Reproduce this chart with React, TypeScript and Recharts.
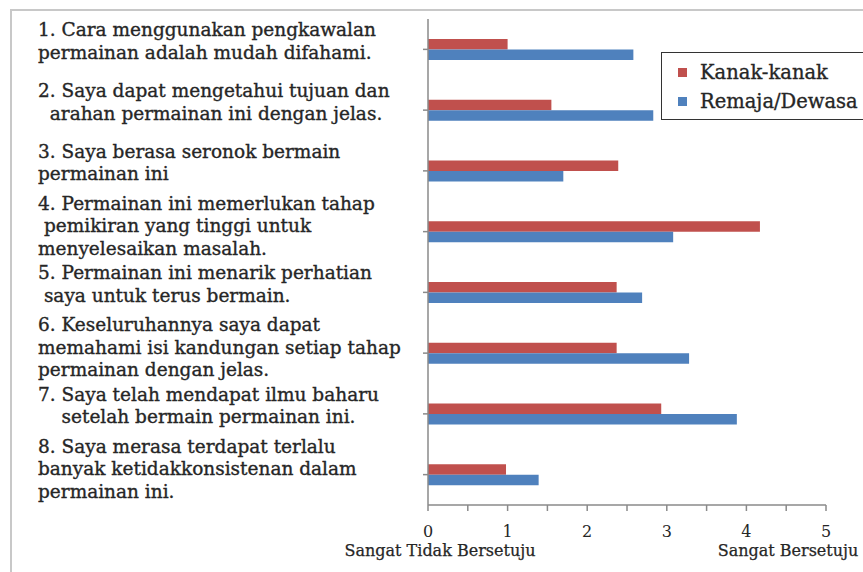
import { BarChart, Bar, XAxis, YAxis } from 'recharts';

const ITEMS = ['1', '2', '3', '4', '5', '6', '7', '8'];

const ITEM_LINES: string[][] = [
  ['1. Cara menggunakan pengkawalan', 'permainan adalah mudah difahami.'],
  ['2. Saya dapat mengetahui tujuan dan', '  arahan permainan ini dengan jelas.'],
  ['3. Saya berasa seronok bermain', 'permainan ini'],
  ['4. Permainan ini memerlukan tahap', ' pemikiran yang tinggi untuk', 'menyelesaikan masalah.'],
  ['5. Permainan ini menarik perhatian', ' saya untuk terus bermain.'],
  ['6. Keseluruhannya saya dapat', 'memahami isi kandungan setiap tahap', 'permainan dengan jelas.'],
  ['7. Saya telah mendapat ilmu baharu', '    setelah bermain permainan ini.'],
  ['8. Saya merasa terdapat terlalu', 'banyak ketidakkonsistenan dalam', 'permainan ini.'],
];

const KANAK = [1.0, 1.55, 2.39, 4.17, 2.37, 2.37, 2.93, 0.98];
const REMAJA = [2.58, 2.83, 1.7, 3.08, 2.69, 3.28, 3.88, 1.39];

const SERIES_NAMES = ['Kanak-kanak', 'Remaja/Dewasa'];
const SERIES_COLORS = ['#C0504D', '#4F81BD'];

const X_TICKS = [0, 0.5, 1, 1.5, 2, 2.5, 3, 3.5, 4, 4.5, 5];

const FONT = '"DejaVu Serif", serif';
const TEXT = '#262626';

const data = ITEMS.map((id, i) => ({ id, kanak: KANAK[i], remaja: REMAJA[i] }));

function ItemTick(props: any) {
  const { y, payload } = props;
  const lines = ITEM_LINES[Number(payload.value) - 1] ?? [];
  const start = lines.length === 3 ? -27 : -18;
  return (
    <text
      x={38}
      y={y + start}
      fill={TEXT}
      stroke={TEXT}
      strokeWidth={0.35}
      fontFamily={FONT}
      fontSize={18.5}
      style={{ whiteSpace: 'pre' }}
      dominantBaseline="middle"
    >
      {lines.map((line, i) => (
        <tspan key={i} x={38} dy={i === 0 ? 0 : 22.5}>
          {line}
        </tspan>
      ))}
    </text>
  );
}

function AxisTitles(props: any) {
  const { viewBox } = props;
  const { x, width } = viewBox;
  return (
    <g fontFamily={FONT} fontSize={16} fill={TEXT} stroke={TEXT} strokeWidth={0.25}>
      <text x={x + 12} y={556} textAnchor="middle">Sangat Tidak Bersetuju</text>
      <text x={x + width - 38} y={556} textAnchor="middle">Sangat Bersetuju</text>
    </g>
  );
}

export default function App() {
  return (
    <div style={{ position: 'absolute', left: 0, top: 0, width: 863, height: 572, background: '#fff', overflow: 'hidden' }}>
      <div
        style={{
          position: 'absolute',
          left: 10,
          top: 9,
          width: 900,
          height: 600,
          borderTop: '2px solid #c8c8c8',
          borderLeft: '2px solid #c8c8c8',
        }}
      />
      <div style={{ position: 'absolute', left: 0, top: 0 }}>
        <BarChart
          width={863}
          height={572}
          data={data}
          layout="vertical"
          margin={{ top: 19, right: 37, left: 0, bottom: 0 }}
          barSize={10.5}
          barGap={0}
        >
          <XAxis
            type="number"
            domain={[0, 5]}
            ticks={X_TICKS}
            tickFormatter={(v: number) => (Number.isInteger(v) ? String(v) : '')}
            height={67}
            axisLine={{ stroke: '#8a8a8a', strokeWidth: 1.5 }}
            tickLine={{ stroke: '#8a8a8a', strokeWidth: 1.5 }}
            tickSize={6}
            tick={{ fontFamily: FONT, fontSize: 16, fill: TEXT, dy: 13 }}
            label={<AxisTitles />}
          />
          <YAxis
            type="category"
            dataKey="id"
            width={428}
            axisLine={{ stroke: '#8a8a8a', strokeWidth: 1.5 }}
            tickLine={{ stroke: '#8a8a8a', strokeWidth: 1.5 }}
            tickSize={5}
            tick={<ItemTick />}
            interval={0}
          />
          <Bar dataKey="kanak" name={SERIES_NAMES[0]} fill={SERIES_COLORS[0]} isAnimationActive={false} />
          <Bar dataKey="remaja" name={SERIES_NAMES[1]} fill={SERIES_COLORS[1]} isAnimationActive={false} />
        </BarChart>
      </div>
      <div
        style={{
          position: 'absolute',
          left: 661,
          top: 52,
          width: 215,
          height: 68,
          border: '1.5px solid #333',
          background: '#fff',
          padding: '5px 0 0 16px',
          fontFamily: FONT,
          fontSize: 19.5,
          color: TEXT,
          WebkitTextStroke: '0.35px #262626',
          boxSizing: 'border-box',
        }}
      >
        {SERIES_NAMES.map((name, i) => (
          <div key={name} style={{ display: 'flex', alignItems: 'center', height: 29 }}>
            <span style={{ display: 'inline-block', width: 9, height: 9, background: SERIES_COLORS[i], marginRight: 13 }} />
            <span>{name}</span>
          </div>
        ))}
      </div>
    </div>
  );
}
